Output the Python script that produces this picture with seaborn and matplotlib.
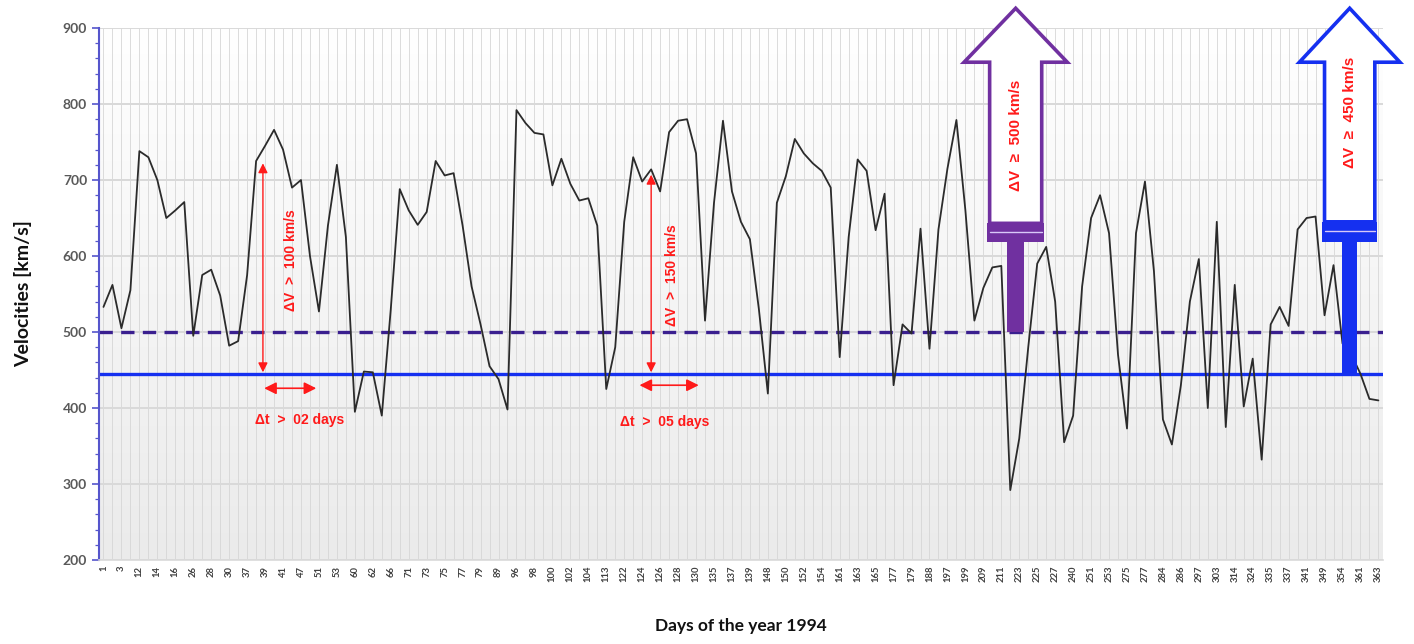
import numpy as np
import matplotlib
matplotlib.use("Agg")
import matplotlib.pyplot as plt
import seaborn as sns
from matplotlib.patches import Polygon, Rectangle
from matplotlib.colors import LinearSegmentedColormap

# ---------------- data ----------------
tick_days = [1, 3, 12, 14, 16, 26, 28, 30, 37, 39, 41, 47, 51, 53, 60, 62, 66, 71,
             73, 75, 77, 79, 89, 96, 98, 100, 102, 104, 113, 122, 124, 126, 128, 130,
             135, 137, 139, 148, 150, 152, 154, 161, 163, 165, 177, 179, 188, 197, 199,
             209, 211, 223, 225, 227, 240, 251, 253, 275, 277, 284, 286, 297, 303, 314,
             324, 335, 337, 341, 349, 354, 361, 363]

velocities = [533, 562, 505, 555, 738, 730, 700, 650, 660, 671,
              495, 575, 582, 548, 482, 488, 575, 725, 745, 766,
              740, 690, 700, 600, 527, 640, 720, 625, 395, 448,
              447, 390, 530, 688, 660, 641, 658, 725, 706, 709,
              640, 560, 510, 455, 438, 398, 792, 775, 762, 760,
              693, 728, 695, 673, 676, 640, 425, 480, 645, 730,
              698, 714, 685, 763, 778, 780, 735, 515, 670, 778,
              685, 645, 622, 530, 419, 670, 705, 754, 735, 722,
              712, 690, 467, 625, 727, 712, 634, 682, 430, 510,
              498, 636, 478, 635, 715, 779, 660, 515, 558, 585,
              587, 292, 360, 480, 590, 612, 540, 355, 390, 560,
              650, 680, 630, 470, 373, 630, 698, 580, 385, 352,
              430, 540, 596, 400, 645, 375, 562, 402, 465, 332,
              510, 533, 508, 635, 650, 652, 522, 588, 485, 470,
              445, 412, 410]

threshold_dashed = 500
threshold_solid = 445
dv_labels = ["ΔV  >  100 km/s", "ΔV  >  150 km/s"]
dt_labels = ["Δt  >  02 days", "Δt  >  05 days"]
big_labels = ["ΔV  ≥  500 km/s", "ΔV  ≥  450 km/s"]

# ---------------- style ----------------
sns.set_theme(style="white")
plt.rcParams['font.family'] = ['Lato', 'DejaVu Sans']

PURPLE = '#7030A0'
NAVY = '#3a1f8f'
BLUE = '#1530f0'
RED = '#ff1a1a'

fig = plt.figure(figsize=(14.14, 6.44), dpi=100)
ax = fig.add_axes([0.070, 0.1304, 0.908, 0.8261])

n = len(velocities)
idx = np.arange(n)

# background gradient of the plot area
cmap = LinearSegmentedColormap.from_list('bg', ['#ebebeb', '#ffffff'])
ax.imshow(np.linspace(0, 1, 256).reshape(-1, 1), cmap=cmap, origin='lower',
          extent=[0, 1, 0, 1], transform=ax.transAxes, aspect='auto', zorder=0)

sns.lineplot(x=idx, y=velocities, color='#2b2b2b', linewidth=1.3, ax=ax, zorder=3)
for l in ax.get_lines():
    l.set_solid_joinstyle('round')

ax.axhline(threshold_dashed, color=NAVY, lw=2.4, ls=(0, (4, 2.5)), zorder=2.5)
ax.axhline(threshold_solid, color=BLUE, lw=2.4, zorder=2.5)

ax.set_xlim(-0.5, n - 0.5)
ax.set_ylim(200, 900)
ax.set_aspect('auto')

# ticks
labels = [str(tick_days[i // 2]) if i % 2 == 0 else '' for i in range(n)]
ax.set_xticks(idx)
ax.set_xticklabels(labels, rotation=90, fontsize=6.8, fontweight='bold', color='#404040')
ax.tick_params(axis='x', length=0, pad=4)
ax.set_yticks(np.arange(200, 901, 100))
ax.set_yticks(np.arange(200, 901, 20), minor=True)
ax.tick_params(axis='y', which='major', length=5, width=1.2, color='#5555cc',
               labelsize=10, labelcolor='#595959', direction='out', left=True)
ax.tick_params(axis='y', which='minor', length=3, width=0.9, color='#5555cc',
               direction='out', left=True)
for t in ax.get_yticklabels():
    t.set_fontweight('bold')

ax.set_axisbelow(True)
ax.grid(axis='x', color='#d6d6d6', lw=0.6)
ax.grid(axis='y', which='major', color='#d9d9d9', lw=1.4)

for s in ['top', 'right']:
    ax.spines[s].set_visible(False)
ax.spines['left'].set_color('#5555cc')
ax.spines['left'].set_linewidth(1.5)
ax.spines['bottom'].set_color('#d9d9d9')
ax.spines['bottom'].set_linewidth(1.2)

ax.set_ylabel('Velocities [km/s]', fontsize=14, fontweight='bold', color='#111111', labelpad=22)
ax.set_xlabel('Days of the year 1994', fontsize=12.5, fontweight='bold', color='#111111', labelpad=26)

# ---------------- red annotations ----------------
afont = dict(family=['Liberation Sans', 'DejaVu Sans'], fontweight='bold', color=RED)
for (xv, ytop), (x0, x1, yh), dvl, dtl, (tx, ty), (dx, dy) in zip(
        [(17.76, 722), (61.0, 707)],
        [(17.9, 23.7, 426), (59.7, 66.3, 430)],
        dv_labels, dt_labels,
        [(20.9, 595), (63.3, 575)],
        [(21.9, 384), (62.5, 382)]):
    ax.annotate('', xy=(xv, threshold_solid + 2), xytext=(xv, ytop),
                arrowprops=dict(arrowstyle='<|-|>', color=RED, lw=1.0,
                                mutation_scale=14, shrinkA=0, shrinkB=0), zorder=6)
    ax.annotate('', xy=(x0, yh), xytext=(x1, yh),
                arrowprops=dict(arrowstyle='<|-|>', color=RED, lw=1.2,
                                mutation_scale=18, shrinkA=0, shrinkB=0), zorder=6)
    ax.text(tx, ty, dvl, rotation=90, ha='center', va='center', fontsize=10, zorder=6, **afont)
    ax.text(dx, dy, dtl, ha='center', va='center', fontsize=10, zorder=6, **afont)

# ---------------- big block arrows ----------------
def block_arrow(xc, half_shaft, half_head, tip, head_base, box_bottom, band_bottom,
                stem_half, stem_bottom, color, text, text_y):
    verts = [(xc - half_shaft, box_bottom), (xc - half_shaft, head_base),
             (xc - half_head, head_base), (xc, tip), (xc + half_head, head_base),
             (xc + half_shaft, head_base), (xc + half_shaft, box_bottom)]
    ax.add_patch(Polygon(verts, closed=True, facecolor='white', edgecolor=color,
                         lw=2.6, clip_on=False, zorder=7, joinstyle='miter'))
    ax.add_patch(Rectangle((xc - half_shaft - 0.25, band_bottom), 2 * half_shaft + 0.5,
                           box_bottom - band_bottom, facecolor=color, edgecolor='none',
                           clip_on=False, zorder=7))
    ax.plot([xc - half_shaft, xc + half_shaft], [band_bottom + 0.55 * (box_bottom - band_bottom)] * 2,
            color='#d8c8f8', lw=1.0, zorder=7.5, clip_on=False)
    ax.add_patch(Rectangle((xc - stem_half, stem_bottom), 2 * stem_half,
                           band_bottom - stem_bottom, facecolor=color, edgecolor='none',
                           clip_on=False, zorder=7))
    ax.text(xc, text_y, text, rotation=90, ha='center', va='center', fontsize=11,
            zorder=8, clip_on=False, **afont)

block_arrow(101.6, 2.9, 5.75, 926, 855, 643, 618, 0.95, threshold_dashed,
            PURPLE, big_labels[0], 759)
block_arrow(138.8, 2.8, 5.6, 926, 855, 645, 618, 0.85, threshold_solid,
            BLUE, big_labels[1], 789)

fig.savefig('out.png', dpi=100)
